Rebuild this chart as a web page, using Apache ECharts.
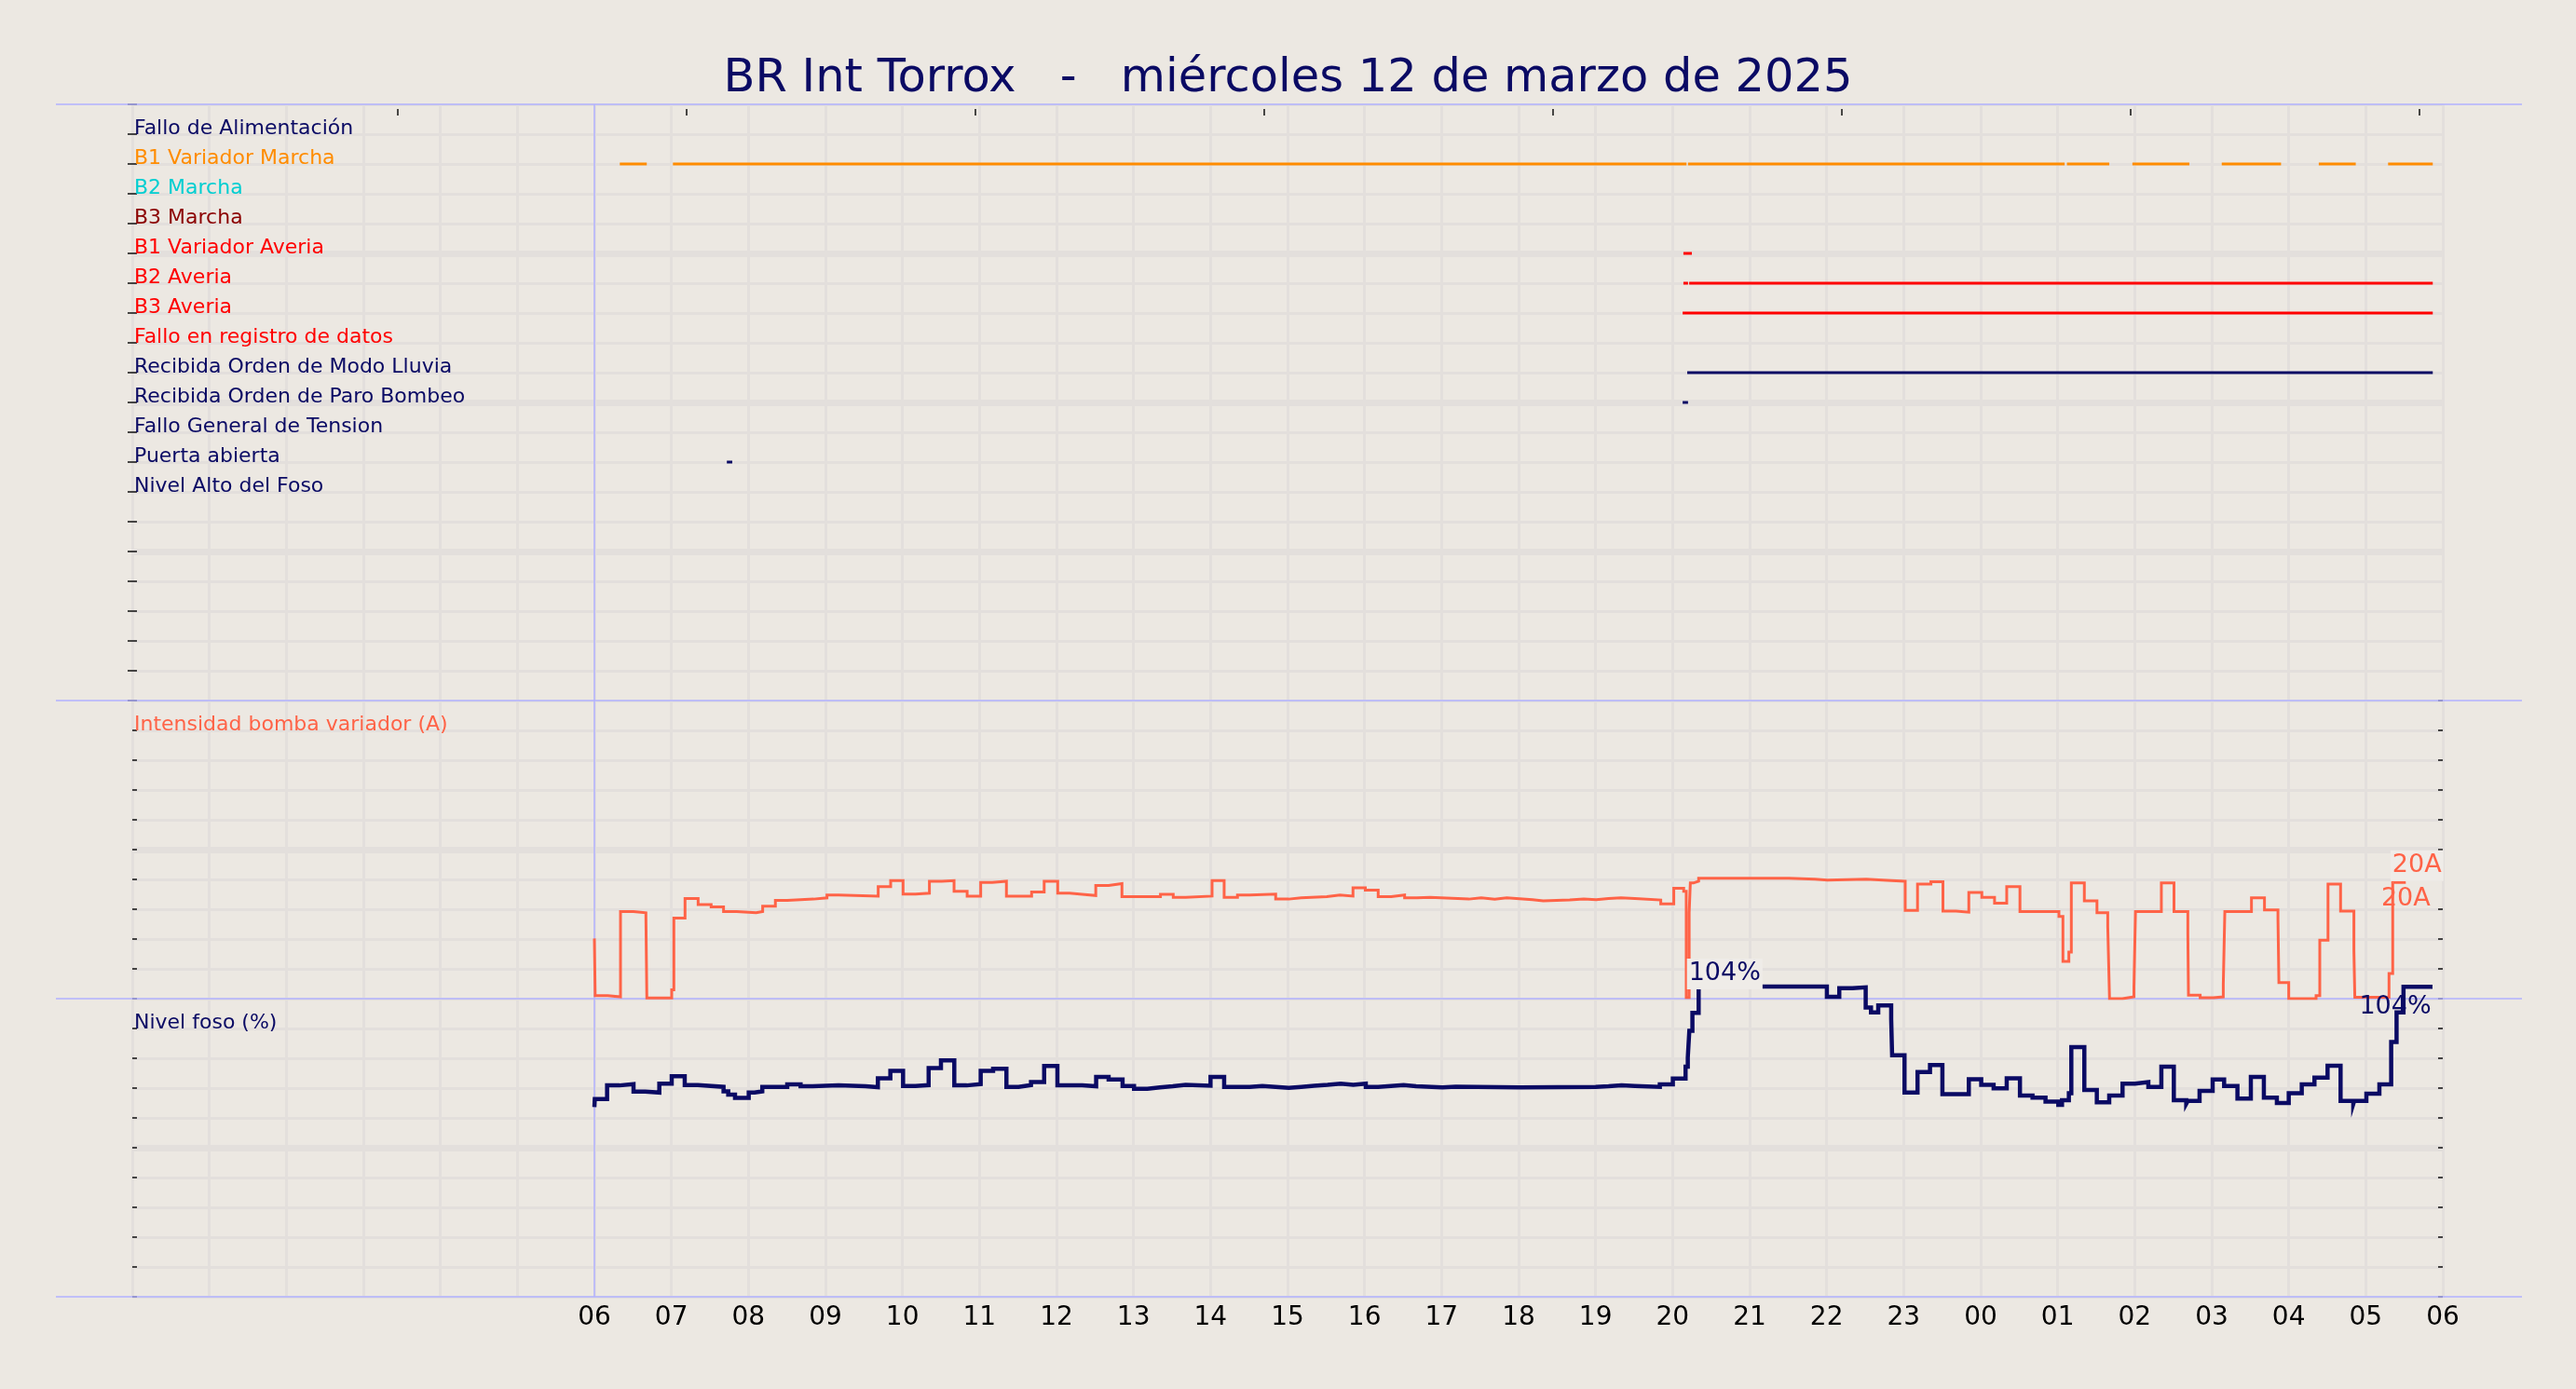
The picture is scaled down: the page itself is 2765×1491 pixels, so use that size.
<!DOCTYPE html>
<html>
<head>
<meta charset="utf-8">
<script src="https://cdn.jsdelivr.net/npm/echarts@6/dist/echarts.min.js"></script>
<style>
html,body{margin:0;padding:0;background:#ECE8E2;}
#c{width:2765px;height:1491px;}
</style>
</head>
<body>
<div id="c"></div>
<script>
// ---------------- DATA ----------------
const titleText = 'BR Int Torrox   -   miércoles 12 de marzo de 2025';

const signalNames = ['Fallo de Alimentación','B1 Variador Marcha','B2 Marcha','B3 Marcha','B1 Variador Averia','B2 Averia','B3 Averia','Fallo en registro de datos','Recibida Orden de Modo Lluvia','Recibida Orden de Paro Bombeo','Fallo General de Tension','Puerta abierta','Nivel Alto del Foso'];

// on/off periods (hours from 00:00 of the axis start)
const b1VariadorMarchaOn  = [6.33, 7.02, 20.2, 25.12, 25.97, 27.13, 28.39, 29.29];
const b1VariadorMarchaOff = [6.68, 20.18, 25.09, 25.67, 26.71, 27.9, 28.87, 29.87];
const b1VariadorAveriaOn  = [20.14];
const b1VariadorAveriaOff = [20.25];
const b2AveriaOn  = [20.14, 20.215];
const b2AveriaOff = [20.2, 29.87];
const b3AveriaOn  = [20.13];
const b3AveriaOff = [29.87];
const modoLluviaOn  = [20.19];
const modoLluviaOff = [29.87];
const paroBombeoOn  = [20.13];
const paroBombeoOff = [20.2];
const puertaAbiertaOn  = [7.72];
const puertaAbiertaOff = [7.79];

const xTickHours  = [6,7,8,9,10,11,12,13,14,15,16,17,18,19,20,21,22,23,24,25,26,27,28,29,30];
const xTickLabels = ['06','07','08','09','10','11','12','13','14','15','16','17','18','19','20','21','22','23','00','01','02','03','04','05','06'];
const topTickHours = [3.45, 7.2, 10.95, 14.7, 18.45, 22.2, 25.95, 29.7];

const intensityName = 'Intensidad bomba variador (A)';
const iT = [6.0,6.01,6.173,6.339,6.508,6.669,6.681,7.004,7.032,7.177,7.347,7.516,7.677,7.847,8.1,8.185,8.35,8.504,8.847,9.02,9.17,9.685,9.847,10.008,10.17,10.35,10.51,10.67,10.84,11.016,11.165,11.35,11.677,11.84,12.016,12.17,12.334,12.51,12.677,12.85,13.35,13.516,13.677,14.02,14.177,14.35,14.51,14.846,15.016,15.177,15.51,15.68,15.85,16.01,16.177,16.346,16.52,16.68,16.85,17.354,17.515,17.69,17.846,18.18,18.32,18.664,18.846,19.007,19.168,19.33,19.51,19.846,20.015,20.144,20.177,20.215,20.23,20.27,20.338,21.51,21.85,22.01,22.515,22.84,23.02,23.18,23.354,23.51,23.68,23.846,24.015,24.18,24.338,24.51,25.016,25.068,25.145,25.177,25.346,25.51,25.65,25.673,25.84,25.99,26.01,26.346,26.51,26.69,26.698,26.85,27.02,27.15,27.17,27.516,27.685,27.86,27.872,28.0,28.355,28.403,28.51,28.673,28.846,28.858,29.302,29.35,29.52];
const iV = [10.1,0.5,0.3,14.6,14.4,13.7,0.1,1.5,13.5,16.8,15.8,15.4,14.6,14.4,14.6,15.5,16.5,16.7,16.9,17.4,17.2,18.8,19.8,17.55,17.7,19.7,19.8,18.0,17.2,19.5,19.7,17.2,17.9,19.7,17.7,17.5,17.3,19.0,19.3,17.1,17.5,17.0,17.2,19.8,17.0,17.4,17.55,16.7,16.9,17.1,17.4,17.2,18.6,18.2,17.1,17.4,16.9,17.0,16.7,16.9,16.7,16.9,16.6,16.4,16.55,16.7,16.6,16.8,16.9,16.8,16.55,15.9,18.5,18.0,0.2,14.4,19.4,19.7,20.2,20.05,19.9,20.05,19.8,19.7,14.8,19.2,19.6,14.7,14.5,17.8,17.0,16.0,18.8,14.6,13.8,6.25,7.8,19.4,16.4,14.4,12.1,0.0,0.3,1.9,14.6,19.4,14.6,10.9,0.6,0.15,0.3,2.4,14.6,16.9,14.9,13.4,2.7,0.0,0.5,9.8,19.2,14.7,8.1,0.25,4.2,19.5,19.6];

const levelName = 'Nivel foso (%)';
const lT = [6.0,6.005,6.165,6.326,6.508,6.661,6.843,7.004,7.173,7.343,7.677,7.738,7.826,8.004,8.08,8.18,8.504,8.677,8.834,9.17,9.52,9.681,9.843,10.008,10.17,10.34,10.5,10.673,10.835,11.016,11.177,11.35,11.508,11.669,11.84,12.012,12.334,12.515,12.677,12.858,13.007,13.18,13.342,13.51,13.677,14.0,14.177,14.51,14.673,14.846,15.016,15.177,15.346,15.52,15.69,15.854,16.016,16.177,16.507,16.669,17.01,17.185,18.02,19.0,19.168,19.338,19.51,19.834,20.003,20.168,20.197,20.217,20.257,20.338,22.003,22.164,22.334,22.507,22.576,22.67,22.838,22.85,23.011,23.18,23.342,23.503,23.846,24.007,24.168,24.338,24.51,24.673,24.842,25.008,25.056,25.145,25.177,25.346,25.508,25.669,25.842,26.004,26.177,26.346,26.508,26.669,26.69,26.842,27.012,27.161,27.334,27.508,27.677,27.846,28.0,28.169,28.334,28.504,28.673,28.838,28.85,29.008,29.177,29.33,29.4,29.49,29.867];
const lV = [63.6,66.3,70.9,71.35,68.85,68.5,71.5,74.0,71.0,70.4,68.9,67.8,66.7,68.5,68.9,70.4,71.25,70.6,70.9,70.6,70.3,73.3,75.8,70.7,71.0,76.7,79.3,70.9,71.35,75.8,76.5,70.4,71.0,72.0,77.4,70.9,70.6,73.75,72.9,70.7,69.8,70.2,70.6,71.1,70.8,73.75,70.4,70.7,70.4,70.1,70.4,70.8,71.1,71.5,71.1,71.5,70.4,71.0,70.6,70.2,70.5,70.2,70.4,70.6,70.9,70.7,70.4,71.25,73.2,77.2,80.3,89.2,95.2,104.1,100.6,103.5,103.8,97.0,95.4,97.7,93.3,81.0,68.5,75.4,77.7,68.0,73.0,71.1,69.9,73.3,67.5,66.8,65.5,64.4,65.9,68.3,83.75,69.4,65.2,67.5,71.5,72.0,70.4,77.2,65.9,64.7,65.7,69.1,72.9,70.7,66.5,73.75,66.8,65.0,68.3,71.25,73.5,77.5,65.7,64.7,65.7,68.1,71.25,85.5,95.4,104.0,104.0];

// ---------------- STYLE ----------------
const NAVY = '#0a0a64';
const BG = '#ECE8E2';
const GRIDC = '#E3DFDC';
const BLUE = '#B2B2FF';
const FONT = 'DejaVu Sans';
const signalColors = [NAVY,'#FF8C00','#00CED1','#8B0000','#FF0000','#FF0000','#FF0000','#FF0000',NAVY,NAVY,NAVY,NAVY,NAVY];
const INT_COLOR = '#FF6347';

const GL = 142, GW = 2480;
const panels = [{top:112,h:640},{top:752,h:320},{top:1072,h:320}];

// build digital-signal segments [start, end, row]
const signalPeriods = [
  [2, b1VariadorMarchaOn, b1VariadorMarchaOff],
  [5, b1VariadorAveriaOn, b1VariadorAveriaOff],
  [6, b2AveriaOn, b2AveriaOff],
  [7, b3AveriaOn, b3AveriaOff],
  [9, modoLluviaOn, modoLluviaOff],
  [10, paroBombeoOn, paroBombeoOff],
  [12, puertaAbiertaOn, puertaAbiertaOff]
];
const signalData = [];
signalPeriods.forEach(([row, on, off]) => on.forEach((s, i) => signalData.push([s, off[i], row])));

function hourAxis(gi, labels) {
  return {
    type:'value', gridIndex:gi, min:0, max:30, interval:1, position:'bottom',
    axisLine:{show:false}, axisTick:{show:false},
    splitLine:{show:true, lineStyle:{color:GRIDC, width:3}},
    axisLabel: labels ? {
      show:true, margin:9, fontFamily:FONT, fontSize:28, color:'#000',
      formatter: v => { const i = xTickHours.indexOf(Number(v)); return i >= 0 ? xTickLabels[i] : ''; }
    } : {show:false}
  };
}
function yAxesFor(gi, min, max, interval, inverse, fmt, col) {
  const tick = {show:true, inside:true, length:5, lineStyle:{color:'#111', width:1.5}};
  return [
    {type:'value', gridIndex:gi, min, max, interval, inverse, position:'left',
     axisLine:{show:false}, axisTick:tick,
     splitLine:{show:true, lineStyle:{color:GRIDC, width:3}},
     axisLabel:{show:true, inside:true, margin:2, formatter:fmt, color:col, fontFamily:FONT, fontSize:22,
       verticalAlign:'bottom', lineHeight:11, showMinLabel:true, showMaxLabel:true}},
    {type:'value', gridIndex:gi, min, max, interval, inverse, position:'right',
     axisLine:{show:false}, axisTick:tick, splitLine:{show:false}, axisLabel:{show:false}},
    {type:'value', gridIndex:gi, min, max, interval:interval*5, inverse, position:'left',
     axisLine:{show:false}, axisTick:{show:false}, axisLabel:{show:false},
     splitLine:{show:true, showMinLine:false, showMaxLine:false, lineStyle:{color:GRIDC, width:7}}}
  ];
}
// value labels drawn from an (invisible) scatter so they may sit outside the axis range
function valueLabelSeries(xi, yi, T, V, boxIdx, lastIdx, unit, color, boxOff, lastOff) {
  const base = {show:true, position:'inside', fontFamily:FONT, fontSize:27, color, opacity:1,
                formatter: p => Math.round(p.value[1]) + unit};
  return {
    type:'scatter', xAxisIndex:xi, yAxisIndex:yi, clip:false, silent:true, z:5,
    symbol:'rect', symbolSize:0.5, itemStyle:{color:BG, opacity:1},
    emphasis:{disabled:true},
    data:[
      {value:[T[boxIdx], V[boxIdx]],
       label:Object.assign({}, base, {offset:boxOff, backgroundColor:'#EFECE8', padding:[3,2,3,2]})},
      {value:[T[lastIdx], V[lastIdx]],
       label:Object.assign({}, base, {offset:lastOff})}
    ]
  };
}

const levelMaxIdx = lV.indexOf(Math.max(...lV));

const option = {
  animation:false,
  backgroundColor:BG,
  textStyle:{fontFamily:FONT},
  title:{text:titleText, left:'center', top:60, padding:0,
         textStyle:{fontFamily:FONT, fontSize:49.5, fontWeight:'normal', color:NAVY}},
  grid: panels.map(p => ({left:GL, width:GW, top:p.top, height:p.h, outerBoundsMode:'none', containLabel:false})),
  xAxis: [
    hourAxis(0, false),
    {type:'value', gridIndex:0, min:0, max:30, position:'top', offset:-5,
     axisLine:{show:false}, splitLine:{show:false},
     axisTick:{show:true, inside:true, length:7, customValues:topTickHours, lineStyle:{color:'#111', width:1.5}},
     axisLabel:{show:false, customValues:topTickHours}},
    hourAxis(1, false),
    hourAxis(2, true)
  ],
  yAxis: [].concat(
    yAxesFor(0, 0, 20, 1, true,
      v => { const n = Number(v); return (n >= 1 && n <= signalNames.length) ? signalNames[n-1] : ''; },
      v => signalColors[Number(v)-1] || NAVY),
    yAxesFor(1, 0, 50, 5, false, v => Number(v) === 45 ? intensityName : '', INT_COLOR),
    yAxesFor(2, 0, 100, 10, false, v => Number(v) === 90 ? levelName : '', NAVY)
  ),
  series: [
    {type:'custom', xAxisIndex:0, yAxisIndex:0, data:signalData, encode:{x:[0,1], y:2}, z:3,
     renderItem:(params, api) => {
       const row = api.value(2);
       const a = api.coord([api.value(0), row]);
       const b = api.coord([api.value(1), row]);
       return {type:'rect', shape:{x:a[0], y:a[1]-1.5, width:Math.max(b[0]-a[0], 1), height:3},
               style:{fill:signalColors[row-1]}};
     }},
    {type:'line', name:intensityName, xAxisIndex:2, yAxisIndex:3, step:'end',
     data:iT.map((t,i) => [t, iV[i]]), symbol:'none', showSymbol:false, z:3,
     lineStyle:{color:INT_COLOR, width:3, join:'miter'}},
    {type:'line', name:levelName, xAxisIndex:3, yAxisIndex:6, step:'end', clip:false,
     data:lT.map((t,i) => [t, lV[i]]), symbol:'none', showSymbol:false, z:3,
     lineStyle:{color:NAVY, width:4.5, join:'miter'}},
    valueLabelSeries(2, 3, iT, iV, iT.length-2, iT.length-1, 'A', INT_COLOR, [26,-18], [0,18]),
    valueLabelSeries(3, 6, lT, lV, levelMaxIdx, lT.length-1, '%', NAVY, [28,-13.5], [-40,21.5])
  ]
};

const chart = echarts.init(document.getElementById('c'), null, {renderer:'canvas'});
chart.setOption(option);

// separator lines and start-of-window marker
const x6 = chart.convertToPixel({xAxisIndex:0}, 6);
const sepY = [panels[0].top, panels[1].top, panels[2].top, panels[2].top + panels[2].h];
const gr = sepY.map(y => ({type:'line', silent:true, z:1,
  shape:{x1:60, y1:y, x2:2707, y2:y}, style:{stroke:BLUE, lineWidth:1.5}}));
gr.push({type:'line', silent:true, z:1,
  shape:{x1:x6, y1:sepY[0], x2:x6, y2:sepY[3]}, style:{stroke:BLUE, lineWidth:1.5}});
chart.setOption({graphic:gr});
</script>
</body>
</html>
